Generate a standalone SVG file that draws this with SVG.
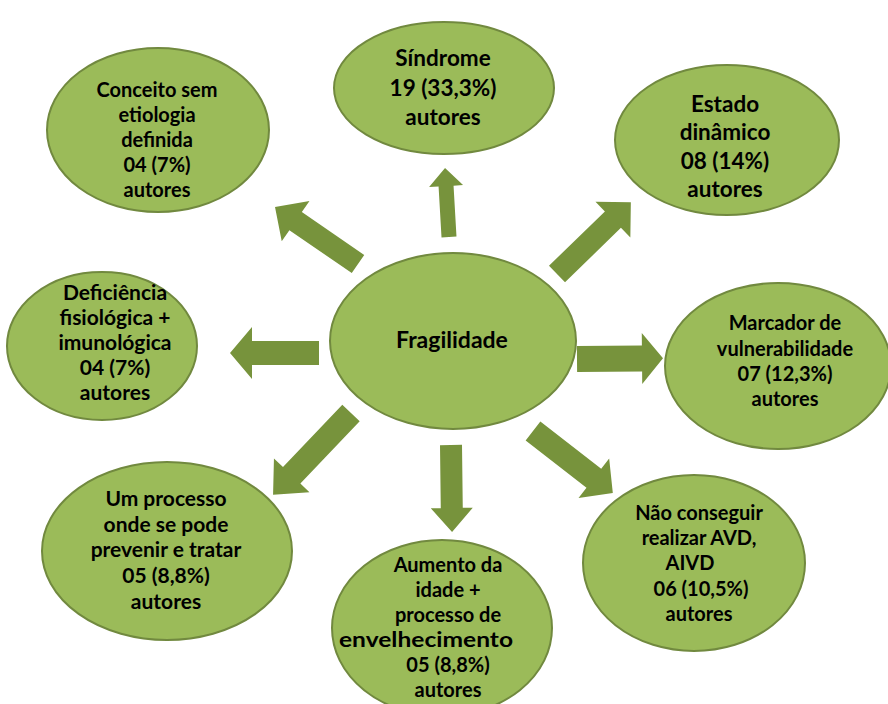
<svg xmlns="http://www.w3.org/2000/svg" width="888" height="704" viewBox="0 0 888 704">
<style>
.node ellipse{fill:#9BBB59;stroke:#71893F;stroke-width:2}
.arrow{fill:#77933C}
text{font-family:Lato,"Liberation Sans",sans-serif;font-weight:700;font-size:20px;fill:#000;text-anchor:middle}
.big text{font-size:22.5px}
.xl text{font-size:23px}
.m text{font-size:21px}
</style>
<rect width="888" height="704" fill="#fff"/>
<g id="connectors">
<polygon class="arrow" points="0,-7.5 51,-7.5 51,-17 69,0 51,17 51,7.5 0,7.5" transform="translate(449,237) rotate(-93.3)"/>
<polygon class="arrow" points="0,-11 75.7,-11 75.7,-24.5 100.7,0 75.7,24.5 75.7,11 0,11" transform="translate(358,264) rotate(-145.5)"/>
<polygon class="arrow" points="0,-11.5 78,-11.5 78,-25 103,0 78,25 78,11.5 0,11.5" transform="translate(557,274) rotate(-44.2)"/>
<polygon class="arrow" points="0,-13 65,-13 65,-25.5 86,0 65,25.5 65,13 0,13" transform="translate(577,359) rotate(-0.5)"/>
<polygon class="arrow" points="0,-12 67,-12 67,-26 89,0 67,26 67,12 0,12" transform="translate(319,353) rotate(180)"/>
<polygon class="arrow" points="0,-12 86,-12 86,-24.5 113,0 86,24.5 86,12 0,12" transform="translate(351,413) rotate(133.6)"/>
<polygon class="arrow" points="0,-11 63,-11 63,-21 87,0 63,21 63,11 0,11" transform="translate(451,445) rotate(89.3)"/>
<polygon class="arrow" points="0,-12 77,-12 77,-25 101,0 77,25 77,12 0,12" transform="translate(533,431) rotate(37.8)"/>
</g>
<g id="fragilidade" class="node xl">
<ellipse cx="453" cy="341" rx="123" ry="88"/>
<text x="452" y="348">Fragilidade</text>
</g>
<g id="sindrome" class="node big">
<ellipse cx="444" cy="88" rx="110" ry="66"/>
<text x="443" y="66">Síndrome</text>
<text x="443" y="96">19 (33,3%)</text>
<text x="443" y="125">autores</text>
</g>
<g id="conceito" class="node">
<ellipse cx="158" cy="130" rx="111" ry="82"/>
<text x="157" y="97">Conceito sem</text>
<text x="157" y="122">etiologia</text>
<text x="157" y="147">definida</text>
<text x="157" y="172">04 (7%)</text>
<text x="157" y="197">autores</text>
</g>
<g id="estado" class="node big">
<ellipse cx="727" cy="140" rx="112" ry="75"/>
<text x="725" y="112">Estado</text>
<text x="725" y="140">dinâmico</text>
<text x="725" y="169">08 (14%)</text>
<text x="725" y="197">autores</text>
</g>
<g id="deficiencia" class="node m">
<ellipse cx="102" cy="346" rx="95" ry="74"/>
<text x="115" y="300">Deficiência</text>
<text x="115" y="325">fisiológica +</text>
<text x="115" y="350">imunológica</text>
<text x="115" y="375">04 (7%)</text>
<text x="115" y="400">autores</text>
</g>
<g id="marcador" class="node">
<ellipse cx="778" cy="366" rx="113" ry="83"/>
<text x="785" y="330">Marcador de</text>
<text x="785" y="356">vulnerabilidade</text>
<text x="785" y="381">07 (12,3%)</text>
<text x="785" y="406">autores</text>
</g>
<g id="processo" class="node m">
<ellipse cx="167" cy="551" rx="125" ry="89"/>
<text x="166" y="506">Um processo</text>
<text x="166" y="532">onde se pode</text>
<text x="166" y="557">prevenir e tratar</text>
<text x="166" y="583">05 (8,8%)</text>
<text x="166" y="609">autores</text>
</g>
<g id="aumento" class="node">
<ellipse cx="442" cy="628" rx="110" ry="88"/>
<text x="448" y="572">Aumento da</text>
<text x="448" y="597">idade +</text>
<text x="448" y="622">processo de</text>
<text x="426" y="647" style="font-size:21.5px" textLength="174" lengthAdjust="spacingAndGlyphs">envelhecimento</text>
<text x="448" y="672">05 (8,8%)</text>
<text x="448" y="697">autores</text>
</g>
<g id="naoconseguir" class="node">
<ellipse cx="694" cy="563" rx="111" ry="88"/>
<text x="699" y="520">Não conseguir</text>
<text x="699" y="545">realizar AVD,</text>
<text x="690" y="570">AIVD</text>
<text x="701" y="596">06 (10,5%)</text>
<text x="699" y="621">autores</text>
</g>
</svg>
